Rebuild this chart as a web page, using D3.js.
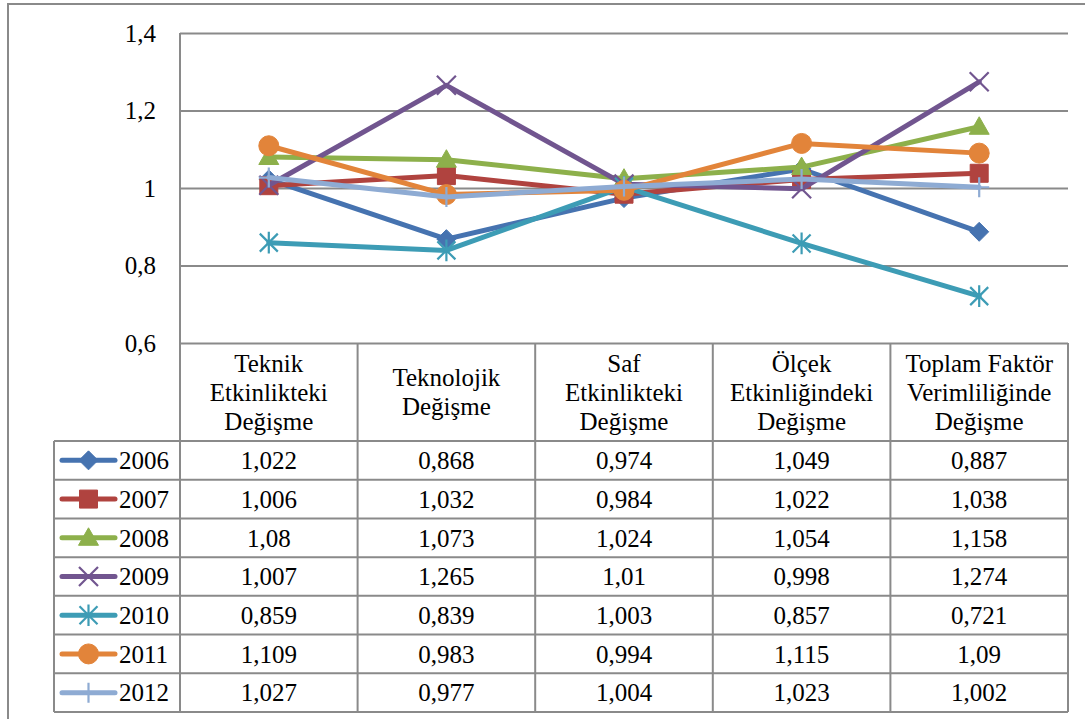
<!DOCTYPE html>
<html>
<head>
<meta charset="utf-8">
<script src="https://cdn.jsdelivr.net/npm/d3@7"></script>
<style>
  html, body { margin: 0; padding: 0; background: #fff; }
  svg { display: block; }
</style>
</head>
<body>
<svg id="chart" width="1085" height="719"></svg>
<script>
// ---- Data ----
const categories = [
  ["Teknik", "Etkinlikteki", "Değişme"],
  ["Teknolojik", "Değişme"],
  ["Saf", "Etkinlikteki", "Değişme"],
  ["Ölçek", "Etkinliğindeki", "Değişme"],
  ["Toplam Faktör", "Verimliliğinde", "Değişme"]
];
const years = ["2006", "2007", "2008", "2009", "2010", "2011", "2012"];
const v2006 = [1.022, 0.868, 0.974, 1.049, 0.887];
const v2007 = [1.006, 1.032, 0.984, 1.022, 1.038];
const v2008 = [1.08, 1.073, 1.024, 1.054, 1.158];
const v2009 = [1.007, 1.265, 1.01, 0.998, 1.274];
const v2010 = [0.859, 0.839, 1.003, 0.857, 0.721];
const v2011 = [1.109, 0.983, 0.994, 1.115, 1.09];
const v2012 = [1.027, 0.977, 1.004, 1.023, 1.002];
const yTicks = [0.6, 0.8, 1, 1.2, 1.4];

const seriesValues = [v2006, v2007, v2008, v2009, v2010, v2011, v2012];
const colors = ["#4673B0", "#B0433F", "#8DB04B", "#71558F", "#3D9CB5", "#E2843A", "#8EABD3"];
const markers = ["diamond", "square", "triangle", "x", "asterisk", "circle", "plus"];

const FONT = '"Liberation Serif", "Times New Roman", Tinos, Times, "DejaVu Serif", serif';

const catKeys = categories.map(c => c.join(" "));
const series = years.map((y, i) => ({
  year: y, color: colors[i], marker: markers[i],
  values: seriesValues[i].map((v, j) => ({ cat: catKeys[j], v }))
}));

// ---- Layout ----
const svg = d3.select("#chart");
const plotL = 180, plotR = 1068, plotT = 33, plotB = 343;
const tableB = 712, headerB = 441, legendL = 54;
const gridColor = "#8a8a8a";

const x = d3.scaleBand().domain(catKeys).range([plotL, plotR]).padding(0);
const y = d3.scaleLinear().domain([0.6, 1.4]).range([plotB, plotT]);
const rowScale = d3.scaleBand().domain(years).range([headerB, tableB]).padding(0);

// outer frame
svg.append("rect").attr("x", 8).attr("y", 4).attr("width", 1100).attr("height", 730)
  .attr("fill", "#fff").attr("stroke", gridColor).attr("stroke-width", 2);

// gridlines + y axis
const fmt = d => String(d).replace(".", ",");
const yAxis = d3.axisLeft(y).tickValues(yTicks).tickFormat(fmt)
  .tickSizeInner(-(plotR - plotL)).tickSizeOuter(0).tickPadding(24);
const gy = svg.append("g").attr("transform", `translate(${plotL},0)`).call(yAxis);
gy.attr("font-family", null).attr("font-size", null);
gy.select(".domain").remove();
gy.selectAll(".tick line").attr("stroke", gridColor).attr("stroke-width", 2);
gy.selectAll(".tick text").attr("font-family", FONT).attr("font-size", 25).attr("fill", "#000");

// table grid
const tg = svg.append("g").attr("stroke", gridColor).attr("stroke-width", 2).attr("fill", "none");
tg.append("line").attr("x1", plotL).attr("x2", plotL).attr("y1", plotT).attr("y2", tableB);
catKeys.forEach(c => {
  const xr = x(c) + x.bandwidth();
  tg.append("line").attr("x1", xr).attr("x2", xr).attr("y1", plotB).attr("y2", tableB);
});
tg.append("line").attr("x1", legendL).attr("x2", legendL).attr("y1", headerB).attr("y2", tableB);
years.forEach(yr => {
  const yt = rowScale(yr);
  tg.append("line").attr("x1", legendL).attr("x2", plotR).attr("y1", yt).attr("y2", yt);
});
tg.append("line").attr("x1", legendL).attr("x2", plotR).attr("y1", tableB).attr("y2", tableB);

// header text
const lineH = 29, headerMid = (plotB + headerB) / 2;
categories.forEach((lines, j) => {
  const cx = x(catKeys[j]) + x.bandwidth() / 2;
  const t = svg.append("text").attr("text-anchor", "middle")
    .attr("font-family", FONT).attr("font-size", 25).attr("fill", "#000");
  lines.forEach((ln, k) => {
    t.append("tspan").attr("x", cx)
      .attr("y", headerMid + (k - (lines.length - 1) / 2) * lineH)
      .attr("dy", "0.35em").text(ln);
  });
});

// marker path generator
function markerPath(type, s) {
  const h = s / 2;
  const p = d3.path();
  switch (type) {
    case "diamond": p.moveTo(0, -h); p.lineTo(h, 0); p.lineTo(0, h); p.lineTo(-h, 0); p.closePath(); break;
    case "square": p.rect(-h, -h, s, s); break;
    case "triangle": p.moveTo(0, -h); p.lineTo(h, h * 0.75); p.lineTo(-h, h * 0.75); p.closePath(); break;
    case "circle": p.arc(0, 0, h, 0, Math.PI * 2); break;
    case "x": p.moveTo(-h, -h); p.lineTo(h, h); p.moveTo(h, -h); p.lineTo(-h, h); break;
    case "asterisk": p.moveTo(-h, -h); p.lineTo(h, h); p.moveTo(h, -h); p.lineTo(-h, h); p.moveTo(0, -h * 1.2); p.lineTo(0, h * 1.2); break;
    case "plus": p.moveTo(0, -h); p.lineTo(0, h); p.moveTo(-h, 0); p.lineTo(h, 0); break;
  }
  return p.toString();
}
const markerSize = { diamond: 19, square: 18, triangle: 20, circle: 20, x: 19, asterisk: 18, plus: 20 };
const filled = { diamond: true, square: true, triangle: true, circle: true, x: false, asterisk: false, plus: false };

function drawMarker(g, type, color, cx, cy) {
  const m = g.append("path").attr("d", markerPath(type, markerSize[type]))
    .attr("transform", `translate(${cx},${cy})`);
  if (filled[type]) m.attr("fill", color).attr("stroke", color).attr("stroke-width", 1);
  else m.attr("fill", "none").attr("stroke", color).attr("stroke-width", 2.2);
}

// series
const line = d3.line().x(d => x(d.cat) + x.bandwidth() / 2).y(d => y(d.v));
series.forEach(s => {
  const g = svg.append("g");
  g.append("path").datum(s.values).attr("d", line)
    .attr("fill", "none").attr("stroke", s.color).attr("stroke-width", 5)
    .attr("stroke-linejoin", "round").attr("stroke-linecap", "round");
  s.values.forEach(d => drawMarker(g, s.marker, s.color, x(d.cat) + x.bandwidth() / 2, y(d.v)));
});

// table rows: legend keys + values
series.forEach(s => {
  const cy = rowScale(s.year) + rowScale.bandwidth() / 2;
  const g = svg.append("g");
  g.append("line").attr("x1", 62).attr("x2", 115).attr("y1", cy).attr("y2", cy)
    .attr("stroke", s.color).attr("stroke-width", 5).attr("stroke-linecap", "round");
  drawMarker(g, s.marker, s.color, 88.5, cy);
  g.append("text").attr("x", 119).attr("y", cy).attr("dy", "0.35em")
    .attr("font-family", FONT).attr("font-size", 25).attr("fill", "#000").text(s.year);
  s.values.forEach(d => {
    svg.append("text").attr("x", x(d.cat) + x.bandwidth() / 2).attr("y", cy).attr("dy", "0.35em")
      .attr("text-anchor", "middle").attr("font-family", FONT).attr("font-size", 25)
      .attr("fill", "#000").text(fmt(d.v));
  });
});
</script>
</body>
</html>
